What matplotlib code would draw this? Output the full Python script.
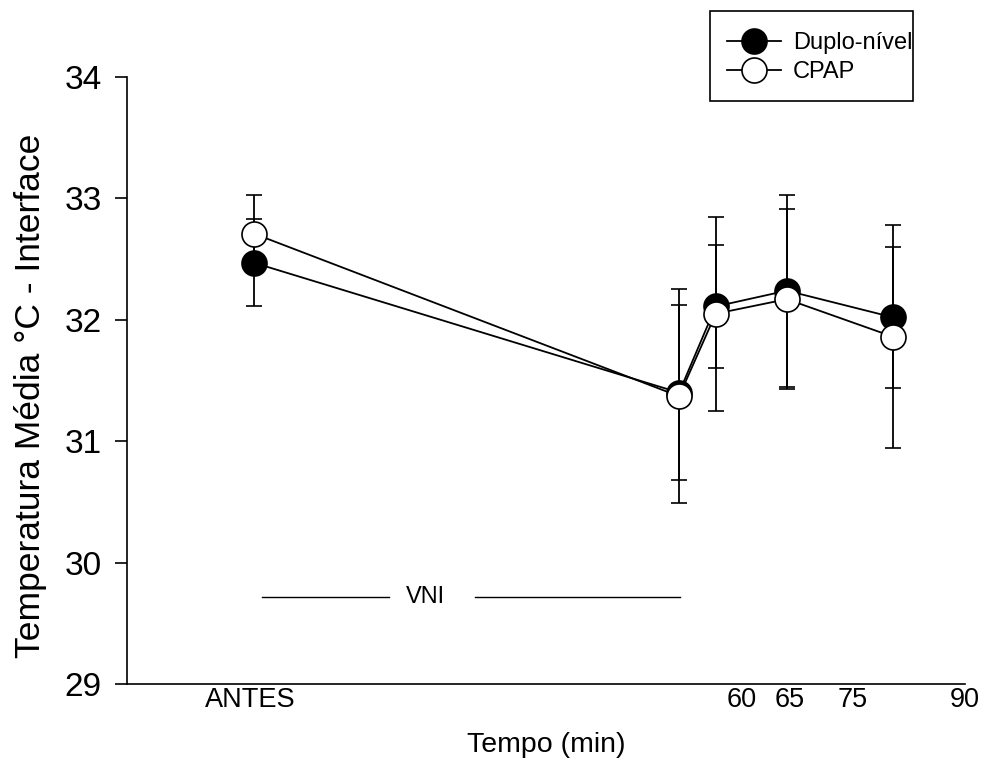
import matplotlib
matplotlib.use("Agg")
import matplotlib.pyplot as plt
from matplotlib.patches import Rectangle
from matplotlib.lines import Line2D

plt.rcParams['font.family'] = ['Liberation Sans', 'DejaVu Sans']

# ---- data ----
x_pos = [-7.0, 51.0, 56.0, 65.7, 80.2]
duplo_mean = [32.47, 31.40, 32.11, 32.24, 32.02]
duplo_sd = [0.36, 0.72, 0.51, 0.79, 0.58]
cpap_mean = [32.71, 31.37, 32.05, 32.17, 31.86]
cpap_sd = [0.32, 0.88, 0.80, 0.74, 0.92]

tick_pos = [-7.5, 59.6, 66.1, 74.7, 90.0]
tick_labels = ['ANTES', '60', '65', '75', '90']
y_ticks = [29, 30, 31, 32, 33, 34]

vni_y = 29.72
vni_left = [-5.9, 11.4]
vni_right = [23.2, 51.1]
vni_text_x = 16.4

fig = plt.figure(figsize=(9.84, 7.6), dpi=100)
ax = fig.add_axes([127/984, 1-684/760, (965-127)/984, (684-77)/760])

ms = 18
lw = 1.3
ax.errorbar(x_pos, duplo_mean, yerr=duplo_sd, color='black', lw=lw,
            elinewidth=1.3, capsize=6, capthick=1.3,
            marker='o', ms=ms, mfc='black', mec='black', mew=1.2, zorder=3)
ax.errorbar(x_pos, cpap_mean, yerr=cpap_sd, color='black', lw=lw,
            elinewidth=1.3, capsize=6, capthick=1.3,
            marker='o', ms=ms, mfc='white', mec='black', mew=1.2, zorder=4)

# VNI annotation
ax.plot(vni_left, [vni_y, vni_y], color='black', lw=1)
ax.plot(vni_right, [vni_y, vni_y], color='black', lw=1)
ax.text(vni_text_x, vni_y, 'VNI', ha='center', va='center', fontsize=17)

ax.set_xlim(-24.3, 90)
ax.set_ylim(29, 34)
ax.set_yticks(y_ticks)
ax.set_yticklabels([str(v) for v in y_ticks], fontsize=24)
ax.set_xticks(tick_pos)
ax.set_xticklabels(tick_labels, fontsize=19.5)
ax.tick_params(axis='x', length=0, pad=2)
ax.tick_params(axis='y', direction='out', length=9, width=1.2, pad=9)
for s in ['top', 'right']:
    ax.spines[s].set_visible(False)
for s in ['left', 'bottom']:
    ax.spines[s].set_linewidth(1.2)

ax.set_xlabel('Tempo (min)', fontsize=20.5, labelpad=14)
ax.set_ylabel('Temperatura Média °C - Interface', fontsize=25.5)
ax.yaxis.set_label_coords(-0.096, 0.475)

# legend
handles = [
    Line2D([], [], color='black', lw=lw, marker='o', ms=ms, mfc='black', mec='black', mew=1.2),
    Line2D([], [], color='black', lw=lw, marker='o', ms=ms, mfc='white', mec='black', mew=1.2),
]
leg = fig.legend(handles, ['Duplo-nível', 'CPAP'], loc='upper left',
                 bbox_to_anchor=(708/984, 1-13/760),
                 frameon=False, fontsize=17, handlelength=2.3,
                 handletextpad=0.5, labelspacing=0.32, borderpad=0.3)
fig.patches.append(Rectangle((710/984, 1-101/760), (913-710)/984, 90/760,
                             transform=fig.transFigure, fill=False,
                             edgecolor='black', lw=1.2))

fig.savefig('out.png', dpi=100)
